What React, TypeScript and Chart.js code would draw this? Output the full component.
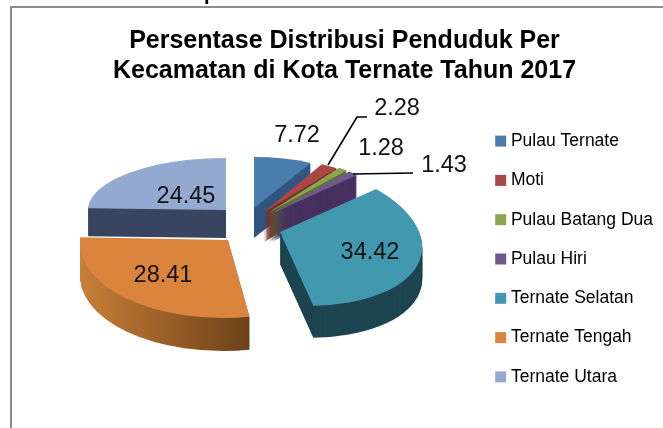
import React, { useEffect, useRef } from "react";
import { Chart, registerables } from "chart.js";

Chart.register(...registerables);

const categories = ["Pulau Ternate", "Moti", "Pulau Batang Dua", "Pulau Hiri", "Ternate Selatan", "Ternate Tengah", "Ternate Utara"];
const values = [7.72, 2.28, 1.28, 1.43, 34.42, 28.41, 24.45];
const titleLines = ["Persentase Distribusi Penduduk Per", "Kecamatan di Kota Ternate Tahun 2017"];

const topColors = ["#4a7dad", "#aa4643", "#89a54e", "#71588f", "#4198af", "#db843d", "#93a9cf"];
const wallColors = ["#2f5680", "#76302e", "#5c7233", "#46305f", "#1d4551", "#a8662e", "#3a4560"];

// screen placement per slice, for the tilted 3-D look: apex x, apex y, rx, ry, shear x, shear y, depth
const sliceShape = [
  [254, 208, 122, 51, 0, 0, 30],
  [264, 212, 124, 54, 0, 0, 30],
  [268, 213, 121, 56, 0, 0, 29],
  [271, 214, 120, 56, 0, 0, 28],
  [280, 232, 142, 73, 8, 11, 32],
  [228, 240, 148, 78, -5, 0, 33],
  [226, 210, 138, 52, 0, 0, 28],
];
const drawOrder = [0, 1, 2, 3, 6, 5, 4];
const labelSpots = [
  [297, 136], [397, 109], [381, 149], [444, 166], [370, 253], [163, 276], [186, 197],
];
const FONT = '"Liberation Sans", Arial, sans-serif';
const LEGEND_BOX_SHIFT = 4;
const LEGEND_BOX = 11;

const pie3d = {
  id: "pie3d",
  beforeDraw(chart: any) {
    const { ctx, width, height } = chart;
    ctx.save();
    ctx.fillStyle = "#fff";
    ctx.fillRect(0, 0, width, height);
    ctx.strokeStyle = "#8c8c8c";
    ctx.lineWidth = 2;
    ctx.beginPath();
    ctx.moveTo(11, height);
    ctx.lineTo(11, 7);
    ctx.lineTo(width, 7);
    ctx.stroke();
    ctx.fillStyle = "#000";
    ctx.font = `bold 20px "Liberation Sans"`;
    ctx.textBaseline = "alphabetic";
    ctx.fillText("p", 204, 0);
    ctx.restore();
  },
  beforeDatasetDraw(chart: any) {
    const { ctx } = chart;
    const arcs = chart.getDatasetMeta(0).data;
    for (const idx of drawOrder) {
      const arc = arcs[idx];
      const [ax, ay, rx, ry, sx, sy, depth] = sliceShape[idx];
      const R = arc.outerRadius;
      const saved = arc.options;
      const place = (dy: number) => {
        ctx.translate(ax, ay + dy);
        ctx.transform(rx / R, sy / R, sx / R, ry / R, 0, 0);
        ctx.translate(-arc.x, -arc.y);
      };
      for (let i = depth; i >= 1; i--) {
        ctx.save();
        place(i);
        let fill: any = wallColors[idx];
        if (idx === 5) {
          const g = ctx.createLinearGradient(arc.x - R, 0, arc.x + R * 0.2, 0);
          g.addColorStop(0, "#c98038");
          g.addColorStop(1, "#6b4019");
          fill = g;
        }
        arc.options = Object.create(saved, { backgroundColor: { value: fill } });
        arc.draw(ctx);
        arc.options = saved;
        ctx.restore();
      }
      ctx.save();
      place(0);
      arc.draw(ctx);
      ctx.restore();
    }
    return false;
  },
  afterDatasetsDraw(chart: any) {
    const { ctx } = chart;
    ctx.save();
    ctx.strokeStyle = "#000";
    ctx.lineWidth = 1.6;
    ctx.beginPath();
    ctx.moveTo(328, 165);
    ctx.lineTo(357, 117);
    ctx.lineTo(367, 117);
    ctx.moveTo(353, 174);
    ctx.lineTo(413, 173);
    ctx.stroke();
    ctx.fillStyle = "#111";
    ctx.font = `23.5px ${FONT}`;
    ctx.textAlign = "center";
    ctx.textBaseline = "middle";
    values.forEach((v, i) => {
      ctx.fillText(v.toFixed(2), labelSpots[i][0], labelSpots[i][1]);
    });
    ctx.restore();
  },
  afterDraw(chart: any) {
    const { ctx, legend } = chart;
    ctx.save();
    legend.legendHitBoxes.forEach((box: any, i: number) => {
      ctx.fillStyle = topColors[i];
      ctx.fillRect(box.left + LEGEND_BOX_SHIFT, box.top + (box.height - LEGEND_BOX) / 2, LEGEND_BOX, LEGEND_BOX);
    });
    ctx.restore();
  },
};

export default function App() {
  const ref = useRef<HTMLCanvasElement>(null);
  useEffect(() => {
    const chart = new Chart(ref.current as HTMLCanvasElement, {
      type: "pie",
      data: {
        labels: categories,
        datasets: [{ data: values, backgroundColor: topColors, borderWidth: 0 }],
      },
      plugins: [pie3d],
      options: {
        animation: false,
        responsive: false,
        layout: { padding: { left: 26, top: 16, right: 0, bottom: 0 } },
        plugins: {
          tooltip: { enabled: false },
          title: {
            display: true,
            text: titleLines,
            color: "#000",
            font: { family: FONT, size: 25, weight: "bold", lineHeight: 1.2 },
            padding: { top: 10, bottom: 4 },
          },
          legend: {
            display: true,
            position: "right",
            fullSize: false,
            labels: {
              color: "#111",
              boxWidth: LEGEND_BOX,
              boxHeight: LEGEND_BOX,
              padding: 21.8,
              font: { family: FONT, size: 17.5 },
              generateLabels: (chart: any) =>
                chart.data.labels.map((text: string, i: number) => ({
                  text,
                  fillStyle: "rgba(0,0,0,0)",
                  strokeStyle: "rgba(0,0,0,0)",
                  lineWidth: 0,
                  index: i,
                })),
            },
          },
        },
      },
    } as any);
    return () => chart.destroy();
  }, []);
  return (
    <div style={{ position: "absolute", left: 0, top: 0, width: 663, height: 428 }}>
      <canvas ref={ref} width={663} height={428} style={{ display: "block" }} />
    </div>
  );
}
